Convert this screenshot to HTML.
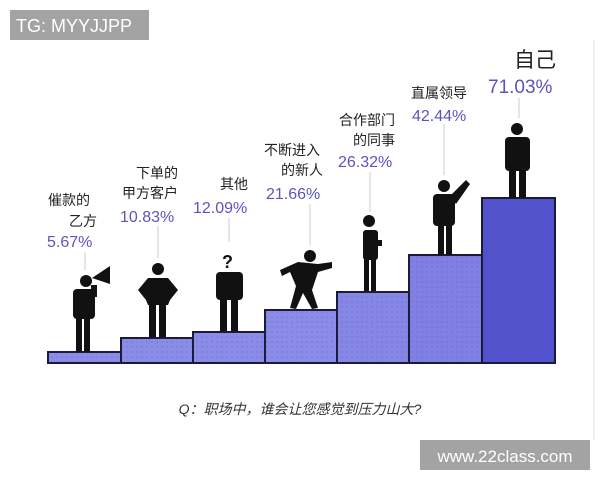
<!DOCTYPE html>
<html><head><meta charset="utf-8"><style>
body{margin:0;width:600px;height:480px;background:#fff;overflow:hidden;font-family:"Liberation Sans","Noto Sans CJK SC",sans-serif}
</style></head><body>
<svg width="600" height="480" xmlns="http://www.w3.org/2000/svg" style="position:absolute;left:0;top:0">
<defs>
<pattern id="d" width="5" height="5" patternUnits="userSpaceOnUse"><circle cx="2" cy="2" r="0.7" fill="#5a5ab8" opacity="0.5"/></pattern>
</defs>
<rect x="10" y="10" width="139" height="30" fill="#a3a3a3"/>
<text x="16" y="32" font-size="18" fill="#fff" font-family="Liberation Sans,sans-serif">TG: MYYJJPP</text>
<line x1="594" y1="40" x2="594" y2="440" stroke="#e6e6e6" stroke-width="1"/>
<!-- bars -->
<g stroke="#1a1a3a" stroke-width="2">
<rect x="48" y="352" width="73" height="11" fill="#8b8be8"/>
<rect x="121" y="338" width="72" height="25" fill="#8b8be8"/>
<rect x="193" y="332" width="72" height="31" fill="#8b8be8"/>
<rect x="265" y="310" width="72" height="53" fill="#8b8be8"/>
<rect x="337" y="292" width="72" height="71" fill="#8686e6"/>
<rect x="409" y="255" width="73" height="108" fill="#8080e2"/>
<rect x="482" y="198" width="73" height="165" fill="#5252cc"/>
</g>
<g fill="url(#d)">
<rect x="49" y="353" width="71" height="9"/><rect x="122" y="339" width="70" height="23"/><rect x="194" y="333" width="70" height="29"/><rect x="266" y="311" width="70" height="51"/><rect x="338" y="293" width="70" height="69"/><rect x="410" y="256" width="71" height="106"/><rect x="483" y="199" width="71" height="163"/>
</g>
<!-- connector lines -->
<g stroke="#ccc" stroke-width="1">
<line x1="85" y1="252" x2="85" y2="270"/><line x1="158" y1="226" x2="158" y2="258"/>
<line x1="229" y1="218" x2="229" y2="242"/><line x1="310" y1="204" x2="310" y2="245"/>
<line x1="370" y1="172" x2="370" y2="212"/><line x1="444" y1="124" x2="444" y2="175"/>
<line x1="519" y1="98" x2="519" y2="118"/>
</g>
<!-- figures -->
<g fill="#111">
<!-- 1 megaphone -->
<circle cx="86" cy="281" r="6"/><rect x="73" y="289" width="22" height="30" rx="4"/><rect x="76" y="315" width="6" height="37"/><rect x="84" y="315" width="6" height="37"/>
<polygon points="92,278 110,266 110,284"/><rect x="91" y="285" width="6" height="12"/>
<!-- 2 hands on hips -->
<circle cx="158" cy="269" r="6"/><polygon points="148,278 168,278 178,290 170,300 168,305 148,305 146,300 138,290"/><rect x="149" y="303" width="7" height="34"/><rect x="159" y="303" width="7" height="34"/>
<!-- 3 question -->
<text x="222" y="268" font-size="18" font-weight="bold" font-family="Liberation Sans,sans-serif">?</text>
<rect x="216" y="272" width="27" height="28" rx="4"/><rect x="220" y="298" width="7" height="33"/><rect x="231" y="298" width="7" height="33"/>
<!-- 4 climber -->
<circle cx="310" cy="256" r="6"/><polygon points="280,270 298,262 318,264 332,262 332,268 318,272 312,290 318,308 312,309 303,293 296,309 290,308 296,286 290,272 282,276"/>
<!-- 5 -->
<circle cx="369" cy="221" r="6"/><rect x="363" y="230" width="15" height="30" rx="3"/><rect x="374" y="240" width="8" height="6"/><rect x="364" y="258" width="5" height="33"/><rect x="371" y="258" width="5" height="33"/>
<!-- 6 -->
<circle cx="444" cy="186" r="6"/><rect x="433" y="194" width="22" height="32" rx="4"/><polygon points="450,196 466,180 470,184 456,204"/><rect x="438" y="224" width="6" height="31"/><rect x="446" y="224" width="6" height="31"/>
<!-- 7 -->
<circle cx="517" cy="129" r="6"/><rect x="505" y="137" width="25" height="34" rx="4"/><rect x="509" y="168" width="7" height="30"/><rect x="519" y="168" width="7" height="30"/>
</g>
<!-- labels -->
<g font-family="Liberation Sans,Noto Sans CJK SC,sans-serif" fill="#222" font-size="14">
<text x="48" y="205">催款的</text><text x="97" y="226" text-anchor="end">乙方</text>
<text x="178" y="178" text-anchor="end">下单的</text><text x="178" y="198" text-anchor="end">甲方客户</text>
<text x="248" y="189" text-anchor="end">其他</text>
<text x="264" y="155">不断进入</text><text x="323" y="175" text-anchor="end">的新人</text>
<text x="395" y="125" text-anchor="end">合作部门</text><text x="395" y="145" text-anchor="end">的同事</text>
<text x="411" y="98">直属领导</text>
<text x="556" y="67" text-anchor="end" font-size="21">自己</text>
</g>
<g font-family="Liberation Sans,sans-serif" fill="#5b54c0" font-size="16">
<text x="47" y="247">5.67%</text>
<text x="120" y="222">10.83%</text>
<text x="193" y="213">12.09%</text>
<text x="266" y="199">21.66%</text>
<text x="338" y="167">26.32%</text>
<text x="412" y="121">42.44%</text>
<text x="488" y="93" font-size="19">71.03%</text>
</g>
<text x="300" y="414" text-anchor="middle" font-size="14" font-style="italic" fill="#333" font-family="Liberation Sans,Noto Sans CJK SC,sans-serif">Q：职场中，谁会让您感觉到压力山大?</text>
<rect x="420" y="440" width="170" height="30" fill="#a3a3a3"/>
<text x="505" y="462" text-anchor="middle" font-size="17" fill="#fff" font-family="Liberation Sans,sans-serif">www.22class.com</text>
</svg>
</body></html>
